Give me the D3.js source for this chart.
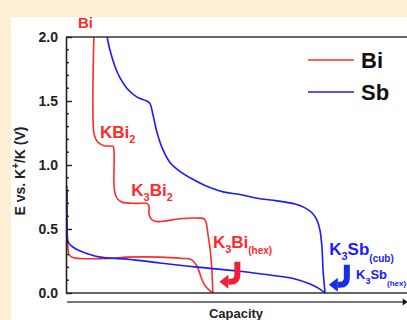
<!DOCTYPE html>
<html>
<head>
<meta charset="utf-8">
<script src="https://cdn.jsdelivr.net/npm/d3@7"></script>
<style>
body{margin:0;background:#fcefd4;}
text{font-family:Arial,"Liberation Sans",sans-serif;font-weight:bold;}
</style>
</head>
<body>
<script>
// capacity (arb. units) / potential (V)
var biDisCap=[8.2,8.2,8.8,9.7,11.2,13.8,14.1,14.1,14.4,15.3,16.5,20.3,23.8,24.4,24.4,25,26.2,28.5,33.5,39.4,40.6,41.2,41.8,42.4,42.9,43.2];
var biDisV=[2.0,1.25,1.20,1.17,1.15,1.145,1.12,0.86,0.78,0.73,0.71,0.70,0.70,0.68,0.62,0.58,0.56,0.56,0.58,0.585,0.58,0.55,0.45,0.34,0.18,0.0];
var biChCap=[0.3,0.3,0.6,0.9,1.8,4.1,12.9,17.9,27.6,34.4,36.5,37.9,38.8,39.7,40.6,41.8,43.2];
var biChV=[0.84,0.57,0.34,0.30,0.28,0.27,0.27,0.28,0.28,0.27,0.265,0.235,0.195,0.125,0.07,0.03,0.0];
var sbDisCap=[12.1,12.9,14.4,15.9,17.9,20.9,23.8,24.7,25.6,26.8,28.5,30.6,33.5,36.5,40.9,46.2,51.2,56.2,62.1,67.4,70.3,72.4,73.8,74.7,75.3,75.6,76.2];
var sbDisV=[2.0,1.9,1.77,1.68,1.6,1.53,1.5,1.48,1.39,1.25,1.12,1.02,0.95,0.9,0.84,0.79,0.77,0.74,0.72,0.695,0.665,0.625,0.57,0.49,0.35,0.18,0.0];
var sbChCap=[0.3,0.3,0.6,1.5,3.2,6.5,10,17.9,27.6,39.4,51.2,60,67.4,71.8,74.1,76.2];
var sbChV=[0.80,0.53,0.40,0.37,0.34,0.305,0.28,0.265,0.235,0.2,0.17,0.14,0.11,0.07,0.04,0.0];
var yTicks=[0,0.5,1.0,1.5,2.0];

var w=407,h=320;
var red='#ff2a2a',blue='#1a1aff';
var svg=d3.select('body').append('svg').attr('width',w).attr('height',h).style('display','block');
svg.append('rect').attr('x',11).attr('y',17).attr('width',w-11).attr('height',h-17).attr('fill','#fff');

var x=d3.scaleLinear().domain([0,100]).range([66,406]);
var y=d3.scaleLinear().domain([0,2]).range([293,37]);

function pts(c,v){return c.map(function(d,i){return [d,v[i]];});}
var line=d3.line().x(function(d){return x(d[0]);}).y(function(d){return y(d[1]);}).curve(d3.curveCatmullRom.alpha(0.5));

var curves=[[biDisCap,biDisV,red],[biChCap,biChV,red],[sbDisCap,sbDisV,blue],[sbChCap,sbChV,blue]];
curves.forEach(function(c){
  svg.append('path').datum(pts(c[0],c[1])).attr('d',line).attr('fill','none').attr('stroke',c[2]).attr('stroke-width',1.6);
});

// frame
svg.append('line').attr('x1',x(0)).attr('x2',w).attr('y1',y(2)).attr('y2',y(2)).attr('stroke','#333').attr('stroke-width',1.6);
svg.append('line').attr('x1',x(0)).attr('x2',w).attr('y1',y(0)).attr('y2',y(0)).attr('stroke','#333').attr('stroke-width',1.6);

// y axis
var yAxis=d3.axisLeft(y).tickValues(yTicks).tickFormat(d3.format('.1f')).tickSizeInner(-6).tickSizeOuter(0).tickPadding(8);
var ga=svg.append('g').attr('transform','translate('+x(0)+',0)').call(yAxis);
ga.select('.domain').attr('stroke','#222').attr('stroke-width',1.6);
ga.selectAll('.tick line').attr('stroke','#222').attr('stroke-width',1.4);
ga.selectAll('.tick text').attr('font-size',14).attr('font-weight','bold').attr('fill','#222').attr('x',-8);
var minor=d3.range(0.1,2,0.1).filter(function(d){return Math.abs(d*2-Math.round(d*2))>0.01;});
svg.append('g').selectAll('line').data(minor).enter().append('line')
  .attr('x1',x(0)).attr('x2',x(0)+3).attr('y1',function(d){return y(d);}).attr('y2',function(d){return y(d);})
  .attr('stroke','#222').attr('stroke-width',1.4);

svg.append('text').attr('transform','translate(25,171) rotate(-90)').attr('text-anchor','middle').attr('font-size',14).attr('fill','#222')
  .html('E vs. K<tspan dy="-6" font-size="10">+</tspan><tspan dy="6">/K (V)</tspan>');

// capacity arrow
svg.append('line').attr('x1',x(0.3)).attr('x2',x(99)).attr('y1',302).attr('y2',302).attr('stroke','#777').attr('stroke-width',2);
svg.append('path').attr('d','M'+x(99)+',298.5L'+(x(99)+5)+',302L'+x(99)+',305.5Z').attr('fill','#111');
svg.append('text').attr('x',236).attr('y',318).attr('text-anchor','middle').attr('font-size',13).attr('fill','#222').text('Capacity');

// legend
var leg=[['Bi',red,60],['Sb',blue,92]];
leg.forEach(function(l){
  svg.append('line').attr('x1',308).attr('x2',354).attr('y1',l[2]).attr('y2',l[2]).attr('stroke',l[1]).attr('stroke-width',1.6);
  svg.append('text').attr('x',361).attr('y',l[2]+8).attr('font-size',22).attr('fill','#111').text(l[0]);
});

// phase labels
function label(c,v,col,size,parts){
  var t=svg.append('text').attr('x',x(c)).attr('y',y(v)).attr('fill',col).attr('font-size',size);
  parts.forEach(function(p){
    t.append('tspan').attr('dy',p[1]).attr('font-size',p[2]||size).text(p[0]);
  });
}
label(3.5,2.07,red,15,[['Bi',0]]);
label(10,1.21,red,17,[['KBi',0],['2',5,11]]);
label(19.2,0.76,red,17,[['K',0],['3',5,11],['Bi',-5],['2',5,11]]);
label(43.2,0.35,red,17,[['K',0],['3',5,11],['Bi',-5],['(hex)',6,10]]);
label(77.4,0.30,blue,17,[['K',0],['3',5,11],['Sb',-5],['(cub)',7,10]]);
label(85.3,0.11,blue,13,[['K',0],['3',5,9],['Sb',-5],['(hex)',7,8]]);

// hook arrows
function hook(c,v,col){
  var x0=x(c),y0=y(v);
  svg.append('path').attr('d','M'+x0+','+y0+'L'+x0+','+(y0+13)+'Q'+x0+','+(y0+20)+' '+(x0-7)+','+(y0+20)+'L'+(x0-9)+','+(y0+20))
    .attr('fill','none').attr('stroke',col).attr('stroke-width',6);
  svg.append('path').attr('d','M'+(x0-9)+','+(y0+13)+'L'+(x0-18)+','+(y0+20)+'L'+(x0-9)+','+(y0+27)+'Z').attr('fill',col);
}
hook(50.4,0.245,'#f0203a');
hook(82.6,0.22,'#1530e0');
</script>
</body>
</html>
